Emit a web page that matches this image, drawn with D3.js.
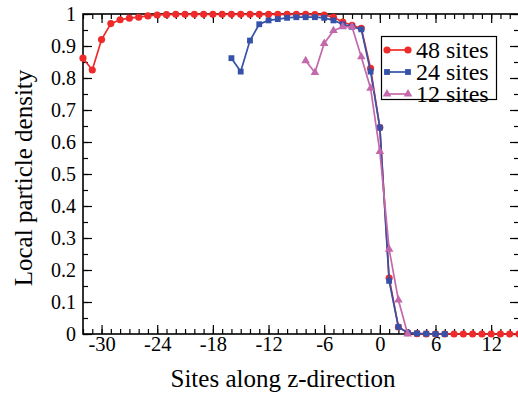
<!DOCTYPE html>
<html>
<head>
<meta charset="utf-8">
<script src="https://cdn.jsdelivr.net/npm/d3@7"></script>
<style>
  body { margin: 0; background: #fff; }
  svg { display: block; }
  svg text { font-family: "Liberation Serif", "Times New Roman", Tinos, Times, "DejaVu Serif", serif; }
</style>
</head>
<body>
<script>
// site positions of each series
var sites48 = d3.range(-32, 16);
var sites24 = d3.range(-16, 8);
var sites12 = d3.range(-8, 4);

// local particle density
var density48 = [0.862, 0.825, 0.92, 0.97, 0.982, 0.987, 0.99, 0.994, 0.997, 0.998,
  0.999, 0.999, 0.999, 0.999, 0.999, 0.999, 0.999, 0.999, 0.999, 0.999,
  0.999, 0.999, 0.999, 0.999, 0.999, 0.998, 0.997, 0.99, 0.975, 0.965,
  0.955, 0.83, 0.645, 0.175, 0.022, 0.004, 0.001, 0, 0, 0,
  0, 0, 0, 0, 0, 0, 0, 0];
var density24 = [0.862, 0.82, 0.917, 0.968, 0.98, 0.984, 0.988, 0.99, 0.99, 0.99,
  0.988, 0.98, 0.968, 0.96, 0.952, 0.82, 0.645, 0.166, 0.022, 0.004,
  0.002, 0.001, 0, 0];
var density12 = [0.854, 0.817, 0.908, 0.948, 0.96, 0.96, 0.866, 0.768, 0.57, 0.265,
  0.106, 0];

var seriesNames = ["48 sites", "24 sites", "12 sites"];
var xTicks = [-30, -24, -18, -12, -6, 0, 6, 12];
var yTicks = [0, 0.1, 0.2, 0.3, 0.4, 0.5, 0.6, 0.7, 0.8, 0.9, 1];

const w = 518;
const h = 394;
const serif = '"Liberation Serif", "Times New Roman", Tinos, Times, "DejaVu Serif", serif';

var svg = d3.select("body").append("svg")
  .attr("width", w)
  .attr("height", h);

var x = d3.scaleLinear().domain([-32, 15]).range([83, 519]);
var y = d3.scaleLinear().domain([0, 1]).range([334, 14]);

var colors = ["#ee2a2a", "#3552a8", "#c468ac"];

// minor ticks, all four sides, pointing in
var xMinor = d3.range(-32, 16);
var yMinor = d3.range(0, 21).map(d => d / 20);

svg.append("g").attr("transform", "translate(0,334)")
  .call(d3.axisBottom(x).tickValues(xMinor).tickSize(-5).tickFormat(""));
svg.append("g").attr("transform", "translate(0,14)")
  .call(d3.axisTop(x).tickValues(xMinor).tickSize(-5).tickFormat(""));
svg.append("g").attr("transform", "translate(83,0)")
  .call(d3.axisLeft(y).tickValues(yMinor).tickSize(-5).tickFormat(""));
svg.append("g").attr("transform", "translate(519,0)")
  .call(d3.axisRight(y).tickValues(yMinor).tickSize(-5).tickFormat(""));

// major ticks
var xAxis = svg.append("g").attr("transform", "translate(0,334)")
  .call(d3.axisBottom(x).tickValues(xTicks).tickSize(-9).tickPadding(0)
    .tickFormat(d => String(d)));
svg.append("g").attr("transform", "translate(0,14)")
  .call(d3.axisTop(x).tickValues(xTicks).tickSize(-9).tickFormat(""));
var yAxis = svg.append("g").attr("transform", "translate(83,0)")
  .call(d3.axisLeft(y).tickValues(yTicks).tickSize(-9).tickFormat(d => String(d)));
svg.append("g").attr("transform", "translate(519,0)")
  .call(d3.axisRight(y).tickValues(yTicks).tickSize(-9).tickFormat(""));

svg.selectAll(".domain").remove();
svg.selectAll("g").attr("font-family", serif);
svg.selectAll(".tick line").attr("stroke", "#000").attr("stroke-width", 1.2);

xAxis.selectAll("text")
  .attr("font-size", 20.5)
  .attr("fill", "#000")
  .attr("dy", null)
  .attr("y", 17);

yAxis.selectAll("text")
  .attr("font-size", 20)
  .attr("fill", "#000")
  .attr("x", -7)
  .attr("dy", "0.33em");

// frame
svg.append("rect")
  .attr("x", x(-32))
  .attr("y", y(1))
  .attr("width", x(15) - x(-32))
  .attr("height", y(0) - y(1))
  .attr("fill", "none")
  .attr("stroke", "#000")
  .attr("stroke-width", 1.6);

var series = [
  { xs: sites48, ys: density48, shape: d3.symbolCircle, size: 40 },
  { xs: sites24, ys: density24, shape: d3.symbolSquare, size: 34 },
  { xs: sites12, ys: density12, shape: d3.symbolTriangle, size: 32 }
];

var line = d3.line()
  .x(d => x(d[0]))
  .y(d => y(d[1]));

series.forEach(function (s, i) {
  var pts = s.xs.map((v, j) => [v, s.ys[j]]);
  var g = svg.append("g");
  g.append("path")
    .attr("d", line(pts))
    .attr("fill", "none")
    .attr("stroke", colors[i])
    .attr("stroke-width", 1.7);
  g.selectAll("path.mark")
    .data(pts)
    .enter()
    .append("path")
    .attr("class", "mark")
    .attr("d", d3.symbol().type(s.shape).size(s.size))
    .attr("transform", d => "translate(" + x(d[0]) + "," + y(d[1]) + ")")
    .attr("fill", colors[i]);
});

// legend
var legend = svg.append("g").attr("font-family", serif);
legend.append("rect")
  .attr("x", 381.5)
  .attr("y", 36.5)
  .attr("width", 115)
  .attr("height", 63)
  .attr("fill", "#fff")
  .attr("stroke", "#000")
  .attr("stroke-width", 1.2);

seriesNames.forEach(function (name, i) {
  var ly = 50 + i * 22;
  legend.append("line")
    .attr("x1", 387).attr("x2", 408)
    .attr("y1", ly).attr("y2", ly)
    .attr("stroke", colors[i])
    .attr("stroke-width", 1.7);
  [387, 408].forEach(function (lx) {
    legend.append("path")
      .attr("d", d3.symbol().type(series[i].shape).size(series[i].size))
      .attr("transform", "translate(" + lx + "," + ly + ")")
      .attr("fill", colors[i]);
  });
  legend.append("text")
    .attr("x", 416)
    .attr("y", ly + 8)
    .attr("font-size", 24)
    .text(name);
});

// axis titles
svg.append("text")
  .attr("x", 283)
  .attr("y", 387)
  .attr("text-anchor", "middle")
  .attr("font-family", serif)
  .attr("font-size", 25)
  .text("Sites along z-direction");

svg.append("text")
  .attr("transform", "translate(32,178) rotate(-90)")
  .attr("text-anchor", "middle")
  .attr("font-family", serif)
  .attr("font-size", 25)
  .text("Local particle density");
</script>
</body>
</html>
